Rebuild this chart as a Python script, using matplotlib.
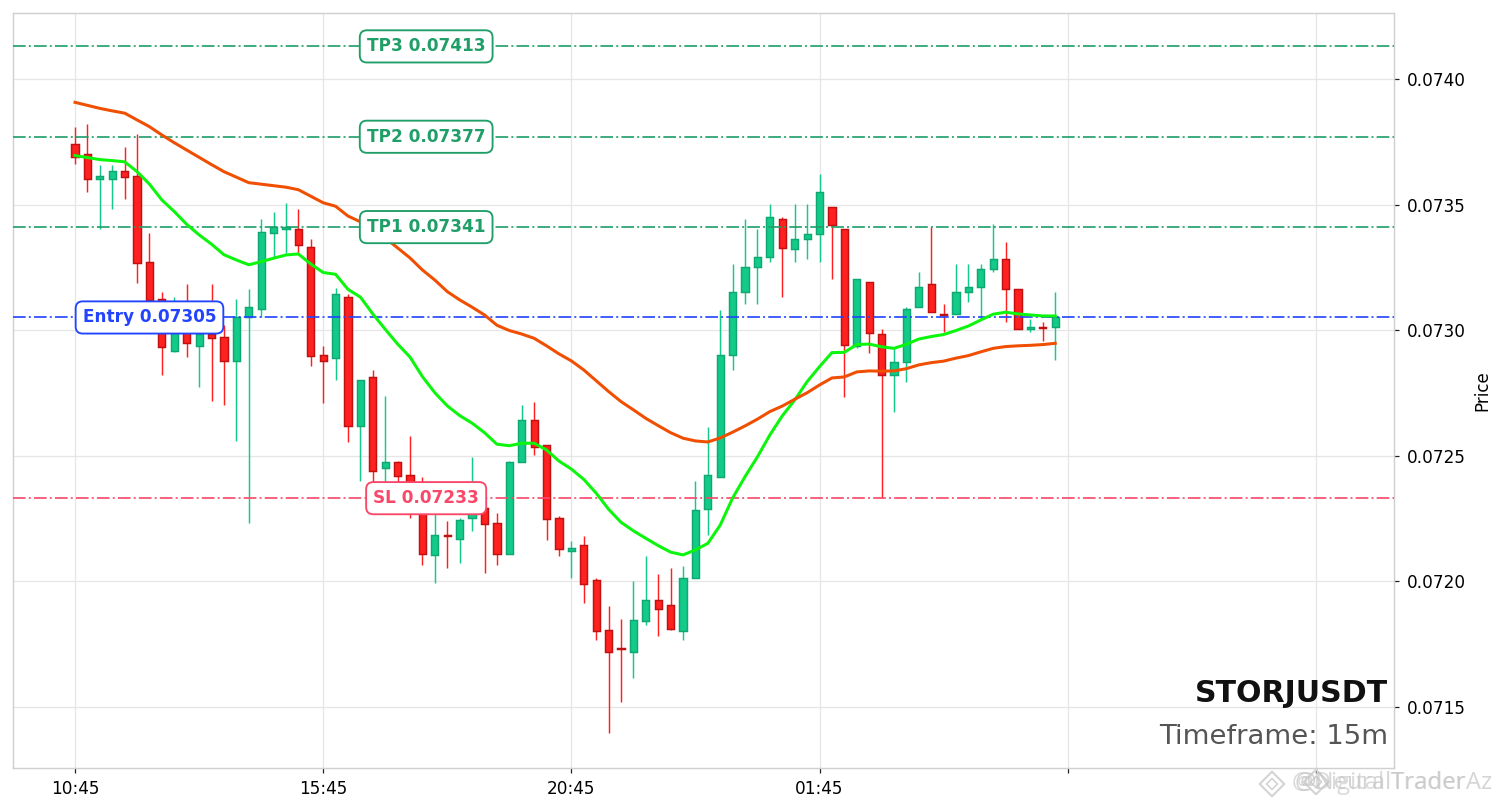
import numpy as np
import matplotlib
matplotlib.use("Agg")
import matplotlib.pyplot as plt

# 15m candles
opens = [0.073741,0.073700,0.073601,0.073601,0.073633,0.073614,0.073270,0.073123,0.072918,0.072992,
         0.072938,0.072983,0.072971,0.072878,0.073051,0.073083,0.073388,0.073401,0.073401,0.073330,
         0.072899,0.072890,0.073131,0.072619,0.072812,0.072452,0.072473,0.072421,0.072303,0.072103,
         0.072182,0.072169,0.072250,0.072290,0.072230,0.072109,0.072473,0.072641,0.072541,0.072250,
         0.072121,0.072143,0.072003,0.071804,0.071732,0.071719,0.071842,0.071923,0.071903,0.071802,
         0.072011,0.072288,0.072413,0.072899,0.073150,0.073250,0.073290,0.073441,0.073322,0.073362,
         0.073382,0.073489,0.073401,0.072937,0.073190,0.072983,0.072820,0.072872,0.073091,0.073182,
         0.073063,0.073063,0.073150,0.073170,0.073242,0.073282,0.073162,0.073003,0.073012,0.073011]
highs = [0.073809,0.073820,0.073659,0.073659,0.073731,0.073780,0.073388,0.073150,0.073131,0.073182,
         0.073020,0.073182,0.073020,0.073123,0.073162,0.073441,0.073469,0.073507,0.073481,0.073362,
         0.072938,0.073169,0.073144,0.072801,0.072841,0.072739,0.072480,0.072579,0.072413,0.072303,
         0.072241,0.072250,0.072493,0.072363,0.072270,0.072480,0.072700,0.072712,0.072541,0.072260,
         0.072161,0.072181,0.072011,0.071902,0.071850,0.072002,0.072101,0.072029,0.072051,0.072061,
         0.072400,0.072613,0.073080,0.073262,0.073441,0.073401,0.073501,0.073449,0.073501,0.073501,
         0.073621,0.073489,0.073401,0.073202,0.073193,0.073003,0.072927,0.073091,0.073230,0.073409,
         0.073103,0.073262,0.073262,0.073262,0.073421,0.073350,0.073162,0.073043,0.073031,0.073150]
lows = [0.073662,0.073550,0.073403,0.073482,0.073522,0.073189,0.073100,0.072820,0.072911,0.072892,
        0.072772,0.072719,0.072700,0.072559,0.072230,0.073051,0.073286,0.073308,0.073307,0.072858,
        0.072711,0.072800,0.072553,0.072400,0.072396,0.072363,0.072391,0.072250,0.072063,0.071991,
        0.072051,0.072071,0.072201,0.072031,0.072063,0.072109,0.072473,0.072501,0.072164,0.072101,
        0.072011,0.071911,0.071763,0.071393,0.071519,0.071613,0.071824,0.071782,0.071804,0.071764,
        0.072011,0.072182,0.072413,0.072840,0.073103,0.073103,0.073270,0.073131,0.073270,0.073282,
        0.073270,0.073202,0.072732,0.072930,0.072910,0.072332,0.072672,0.072792,0.073091,0.073071,
        0.072991,0.073063,0.073111,0.073044,0.073230,0.073031,0.073003,0.072991,0.072958,0.072880]
closes = [0.073690,0.073601,0.073613,0.073633,0.073611,0.073268,0.073120,0.072931,0.073020,0.072950,
          0.072983,0.072970,0.072878,0.073051,0.073091,0.073390,0.073409,0.073412,0.073340,0.072898,
          0.072878,0.073142,0.072619,0.072801,0.072440,0.072473,0.072420,0.072303,0.072109,0.072182,
          0.072180,0.072242,0.072283,0.072229,0.072109,0.072473,0.072641,0.072533,0.072249,0.072129,
          0.072131,0.071990,0.071802,0.071719,0.071729,0.071844,0.071923,0.071890,0.071810,0.072011,
          0.072282,0.072421,0.072899,0.073150,0.073250,0.073290,0.073449,0.073328,0.073362,0.073382,
          0.073549,0.073420,0.072939,0.073202,0.072990,0.072820,0.072872,0.073083,0.073170,0.073071,
          0.073060,0.073150,0.073170,0.073242,0.073282,0.073162,0.073003,0.073011,0.073009,0.073051]

ema_fast = [0.073695,0.073687,0.073679,0.073675,0.073670,0.073631,0.073581,0.073518,0.073472,0.073421,
            0.073379,0.073342,0.073300,0.073279,0.073260,0.073272,0.073286,0.073299,0.073303,0.073263,
            0.073229,0.073222,0.073162,0.073131,0.073064,0.073003,0.072944,0.072892,0.072814,0.072750,
            0.072698,0.072659,0.072629,0.072591,0.072545,0.072539,0.072549,0.072549,0.072522,0.072478,
            0.072446,0.072405,0.072350,0.072286,0.072234,0.072200,0.072170,0.072141,0.072115,0.072104,
            0.072124,0.072150,0.072223,0.072331,0.072416,0.072495,0.072582,0.072658,0.072721,0.072794,
            0.072854,0.072910,0.072911,0.072942,0.072944,0.072933,0.072927,0.072943,0.072964,0.072974,
            0.072982,0.072998,0.073016,0.073040,0.073063,0.073071,0.073064,0.073060,0.073056,0.073056]
ema_slow = [0.073907,0.073895,0.073883,0.073873,0.073864,0.073837,0.073810,0.073777,0.073746,0.073717,
            0.073688,0.073659,0.073631,0.073609,0.073587,0.073581,0.073575,0.073569,0.073559,0.073533,
            0.073507,0.073493,0.073454,0.073431,0.073403,0.073367,0.073327,0.073287,0.073239,0.073199,
            0.073153,0.073120,0.073091,0.073060,0.073019,0.072998,0.072984,0.072967,0.072937,0.072905,
            0.072877,0.072841,0.072798,0.072755,0.072715,0.072682,0.072648,0.072619,0.072591,0.072569,
            0.072558,0.072554,0.072570,0.072593,0.072618,0.072645,0.072675,0.072697,0.072724,0.072750,
            0.072781,0.072809,0.072813,0.072833,0.072837,0.072836,0.072837,0.072846,0.072861,0.072870,
            0.072876,0.072888,0.072898,0.072913,0.072927,0.072934,0.072937,0.072939,0.072942,0.072947]

tp_levels = [0.07341, 0.07377, 0.07413]
tp_names = ["TP1", "TP2", "TP3"]
entry_level = 0.07305
sl_level = 0.07233
tick_pos = [0, 20, 40, 60, 80, 100]
tick_labels = ["10:45", "15:45", "20:45", "01:45", "", ""]
y_ticks = [0.0715, 0.0720, 0.0725, 0.0730, 0.0735, 0.0740]

GREEN = "#13cb88"
GREEN_EDGE = "#0fa873"
RED = "#ff2020"
RED_EDGE = "#c01010"
TP_COLOR = "#1f9e68"
ENTRY_COLOR = "#2244ff"
SL_COLOR = "#f9476a"

W, H = 1501, 808
fig = plt.figure(figsize=(W / 150, H / 150), dpi=150)
ax = fig.add_axes([13 / W, 1 - 768 / H, (1394 - 13) / W, (768 - 13) / H])

x = np.arange(len(opens))
for i in x:
    up = closes[i] >= opens[i]
    face = GREEN if up else RED
    edge = GREEN_EDGE if up else RED_EDGE
    ax.vlines(i, lows[i], highs[i], color=face, lw=0.7, zorder=2)
    ax.bar(i, abs(closes[i] - opens[i]), bottom=min(opens[i], closes[i]), width=0.58,
           color=face, edgecolor=edge, linewidth=0.7, zorder=3)

ax.plot(x, ema_fast, color="#0cf50c", lw=1.45, zorder=4)
ax.plot(x, ema_slow, color="#f04e00", lw=1.45, zorder=4)

def level(y, color, text, xpos):
    ax.axhline(y, color=color, lw=0.95, ls="-.", alpha=0.85, zorder=3.5)
    ax.text(xpos, y, text, color=color, fontsize=8.1, fontweight="bold", ha="center", va="center", zorder=6,
            bbox=dict(boxstyle="round,pad=0.42", fc="white", ec=color, lw=0.9))

for lvl, name in zip(tp_levels, tp_names):
    level(lvl, TP_COLOR, f"{name} {lvl:.5f}", 28.3)
level(entry_level, ENTRY_COLOR, f"Entry {entry_level:.5f}", 6)
level(sl_level, SL_COLOR, f"SL {sl_level:.5f}", 28.3)

ax.set_xlim(-5, 106.3)
ax.set_ylim(0.071255, 0.074263)
ax.set_xticks(tick_pos)
ax.set_xticklabels(tick_labels, fontsize=8.1)
ax.yaxis.tick_right()
ax.yaxis.set_label_position("right")
ax.set_yticks(y_ticks)
ax.set_yticklabels([f"{v:.4f}" for v in y_ticks], fontsize=8.1)
ax.set_ylabel("Price", fontsize=8, labelpad=3.5)
ax.tick_params(length=2.5, width=0.6, color="#222222", pad=3.5)
ax.grid(True, color="#e6e6e6", lw=0.6)
ax.set_axisbelow(True)
for s in ax.spines.values():
    s.set_color("#d0d0d0")
    s.set_linewidth(0.7)

ax.text(1388 / W, 1 - 694 / H, "STORJUSDT", transform=fig.transFigure, ha="right", va="center",
        fontsize=14.4, fontweight="bold", color="#111111", zorder=7)
ax.text(1388 / W, 1 - 737 / H, "Timeframe: 15m", transform=fig.transFigure, ha="right", va="center",
        fontsize=13.2, color="#555555", zorder=7)

# faint overlapping watermarks at the bottom right
fig.text(1493 / W, 1 - 783 / H, "@NeuralTraderAz", ha="right", va="center", fontsize=11.5,
         family="Open Sans", color="#c4c4c4", alpha=0.7)
fig.text(1292 / W, 1 - 783 / H, "@Digital Trader", ha="left", va="center", fontsize=11.5,
         family="Open Sans", color="#c4c4c4", alpha=0.6)
ax_logo = fig.add_axes([0, 0, 1, 1], facecolor="none")
ax_logo.set_axis_off()
ax_logo.set_xlim(0, W)
ax_logo.set_ylim(H, 0)
ax_logo.scatter([1272, 1316], [784, 782], marker="D", s=70, facecolor="none", edgecolor="#d4d4d4", lw=1.0)
ax_logo.scatter([1272, 1316], [784, 782], marker="D", s=14, facecolor="none", edgecolor="#d4d4d4", lw=0.8)

fig.savefig("out.png", dpi=150)
